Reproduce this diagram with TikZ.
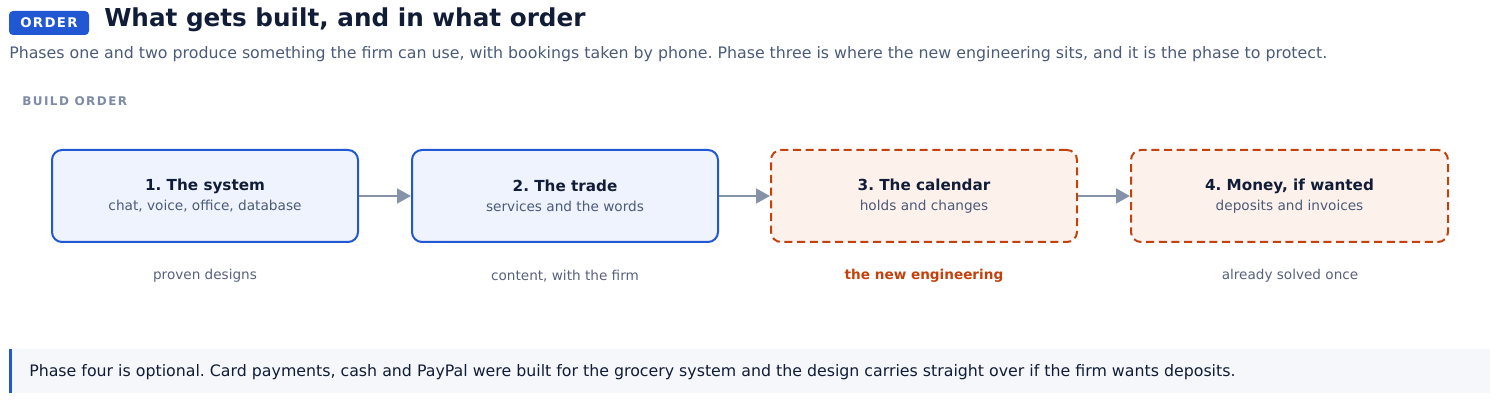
\documentclass[tikz,border=0pt]{standalone}
\usepackage{fontspec}
\setmainfont{DejaVu Sans}
\usetikzlibrary{arrows.meta}
\frenchspacing
\definecolor{inkdark}{HTML}{111C36}
\definecolor{inkgray}{HTML}{4B5B78}
\definecolor{labelgray}{HTML}{56627C}
\definecolor{capgray}{HTML}{7D8BA5}
\definecolor{sysblue}{HTML}{2157D3}
\definecolor{sysfill}{HTML}{EEF3FD}
\definecolor{newred}{HTML}{C2410C}
\definecolor{newfill}{HTML}{FDF1EC}
\definecolor{arrowgray}{HTML}{8592A8}
\definecolor{notefill}{HTML}{F5F7FB}
\begin{document}
\begin{tikzpicture}[
        x=0.75pt, y=-0.75pt,
        phase/.style={rounded corners=7.5pt, line width=1.5pt, minimum height=69pt,
            align=center, text=inkdark, font=\fontsize{11.4}{15}\selectfont},
        built/.style={phase, draw=sysblue, fill=sysfill},
        fresh/.style={phase, draw=newred, fill=newfill, dash pattern=on 6pt off 3.5pt},
        note/.style={text=labelgray, font=\fontsize{10.2}{12}\selectfont},
        arrow/.style={-{Triangle[length=10.5pt, width=11pt]}, line width=2pt, draw=arrowgray}
    ]
        \useasboundingbox (0,0) rectangle (1500,402);

        % Heading
        \node[fill=sysblue, rounded corners=3pt, minimum width=60pt, minimum height=18pt,
            text=white, font=\fontsize{10}{12}\bfseries\addfontfeatures{LetterSpace=10}]
            (badge) at (49,23) {ORDER};
        \node[anchor=west, text=inkdark, inner sep=0pt,
            font=\fontsize{18.5}{24}\bfseries] (title) at (104,20) {What gets built, and in what order};
        \node[anchor=west, text=inkgray, inner sep=0pt, font=\fontsize{11.85}{14}\selectfont]
            (lede) at (9,54) {Phases one and two produce something the firm can use, with bookings taken by phone. Phase three is where the new engineering sits, and it is the phase to protect.};
        \node[anchor=west, text=capgray, inner sep=0pt,
            font=\fontsize{9}{11}\bfseries\addfontfeatures{LetterSpace=12}] (cap) at (22,101) {BUILD ORDER};

        % Phases
        \node[built, minimum width=229.5pt] (sys) at (205,196)
            {\textbf{1. The system}\\{\fontsize{10.25}{15}\selectfont\color{inkgray}chat, voice, office, database}};
        \node[built, minimum width=229.5pt] (trade) at (565,196)
            {\textbf{2. The trade}\\{\fontsize{10.25}{15}\selectfont\color{inkgray}services and the words}};
        \node[fresh, minimum width=229.5pt] (cal) at (924,196)
            {\textbf{3. The calendar}\\{\fontsize{10.25}{15}\selectfont\color{inkgray}holds and changes}};
        \node[fresh, minimum width=237.75pt] (money) at (1289.5,196)
            {\textbf{4. Money, if wanted}\\{\fontsize{10.25}{15}\selectfont\color{inkgray}deposits and invoices}};

        \draw[arrow] (sys) -- (trade);
        \draw[arrow] (trade) -- (cal);
        \draw[arrow] (cal) -- (money);

        % What each phase is
        \node[note] (sysnote) at (205,276) {proven designs};
        \node[note] (tradenote) at (565,276) {content, with the firm};
        \node[note, text=newred, font=\fontsize{10.2}{12}\bfseries] (calnote) at (924,276) {the new engineering};
        \node[note] (moneynote) at (1290,276) {already solved once};

        % Callout
        \fill[notefill] (9,349) rectangle (1490,393);
        \fill[sysblue] (9,349) rectangle (12,393);
        \node[anchor=west, text=inkdark, inner sep=0pt, font=\fontsize{11.85}{14}\selectfont]
            (callout) at (29,372) {Phase four is optional. Card payments, cash and PayPal were built for the grocery system and the design carries straight over if the firm wants deposits.};
\end{tikzpicture}
\end{document}
